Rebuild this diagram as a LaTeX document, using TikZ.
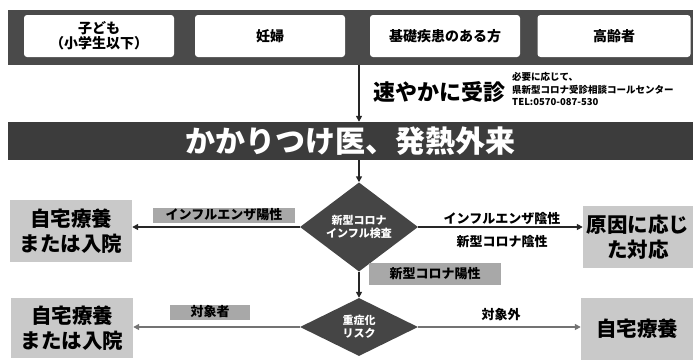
\documentclass[tikz,border=0pt]{standalone}
\usepackage{fontspec}
\setmainfont{Noto Sans CJK JP}
\usetikzlibrary{shapes.geometric,arrows.meta}
\definecolor{bandgray}{HTML}{4A4A4A}
\definecolor{bargray}{HTML}{3C3C3C}
\definecolor{diagray}{HTML}{454545}
\definecolor{resgray}{HTML}{C9C9C9}
\definecolor{labgray}{HTML}{A8A8A8}
\tikzset{
  topbox/.style={draw=none,fill=white,rounded corners=3pt,minimum width=150pt,minimum height=42pt,inner sep=1pt,align=center,font=\fontsize{14}{15}\selectfont\bfseries},
  resbox/.style={fill=resgray,minimum width=122pt,minimum height=62pt,inner sep=1pt,align=center,font=\fontsize{20.5}{25}\selectfont\bfseries},
  decision/.style={diamond,fill=diagray,text=white,minimum width=118pt,minimum height=58pt,inner sep=0pt,align=center,font=\fontsize{11}{13}\selectfont\bfseries},
  lab/.style={fill=labgray,inner sep=1pt,minimum height=15pt,font=\fontsize{13}{14}\selectfont\bfseries},
  plainlab/.style={inner sep=1pt,font=\fontsize{13}{14}\selectfont\bfseries},
  arr/.style={draw=black!85,line width=1.6pt,-{Triangle[length=6pt,width=6pt]}},
  arrlight/.style={arr,draw=black!55},
}
\begin{document}
\begin{tikzpicture}[x=1pt,y=-1pt]
\useasboundingbox (0,0) rectangle (696,359);
% top band
\node[fill=bandgray,minimum width=685pt,minimum height=55pt,inner sep=0pt] (band) at (350.5,37.5) {};
\node[topbox] (t1) at (99,36) {子ども\\（小学生以下）};
\node[topbox] (t2) at (270,36) {妊婦};
\node[topbox] (t3) at (445,36) {基礎疾患のある方};
\node[topbox,minimum width=153pt] (t4) at (614,36) {高齢者};
% main bar
\node[fill=bargray,minimum width=685pt,minimum height=38pt,inner sep=0pt,text=white,font=\fontsize{30}{32}\selectfont\bfseries] (bar) at (350.5,141) {かかりつけ医、発熱外来};
% go-quickly text
\node[font=\fontsize{22}{26}\selectfont\bfseries] (quick) at (439,92) {速やかに受診};
\node[anchor=west,align=left,inner sep=0pt,font=\fontsize{9.5}{12.5}\selectfont\bfseries] (note) at (512,89) {必要に応じて、\\県新型コロナ受診相談コールセンター\\TEL:0570-087-530};
% decisions
\node[decision] (d1) at (359,227) {新型コロナ\\インフル検査};
\node[decision] (d2) at (359,327) {重症化\\リスク};
% results
\node[resbox] (r1) at (71,231) {自宅療養\\または入院};
\node[resbox,minimum width=110pt] (r2) at (638,237) {原因に応じ\\た対応};
\node[resbox,minimum height=60pt] (r3) at (72,328) {自宅療養\\または入院};
\node[resbox,minimum width=112pt] (r4) at (637,329) {自宅療養};
% arrows
\draw[arr] (band.south -| d1) -- (bar.north -| d1);
\draw[arr] (bar.south -| d1) -- (d1.north);
\draw[arr] (d1.west) -- (r1.east |- d1.west);
\draw[arr] (d1.east) -- (r2.west |- d1.east);
\draw[arr] (d1.south) -- (d2.north);
\draw[arrlight] (d2.west) -- (r3.east |- d2.west);
\draw[arrlight] (d2.east) -- (r4.west |- d2.east);
% labels
\node[lab,minimum width=142pt] (l1) at (224,215) {インフルエンザ陽性};
\node[plainlab] (l2) at (502,219) {インフルエンザ陰性};
\node[plainlab] (l3) at (502,242) {新型コロナ陰性};
\node[lab,minimum width=132pt,minimum height=22pt] (l4) at (435,274) {新型コロナ陽性};
\node[lab,minimum width=80pt] (l5) at (210,312) {対象者};
\node[plainlab] (l6) at (501,315) {対象外};
\end{tikzpicture}
\end{document}
